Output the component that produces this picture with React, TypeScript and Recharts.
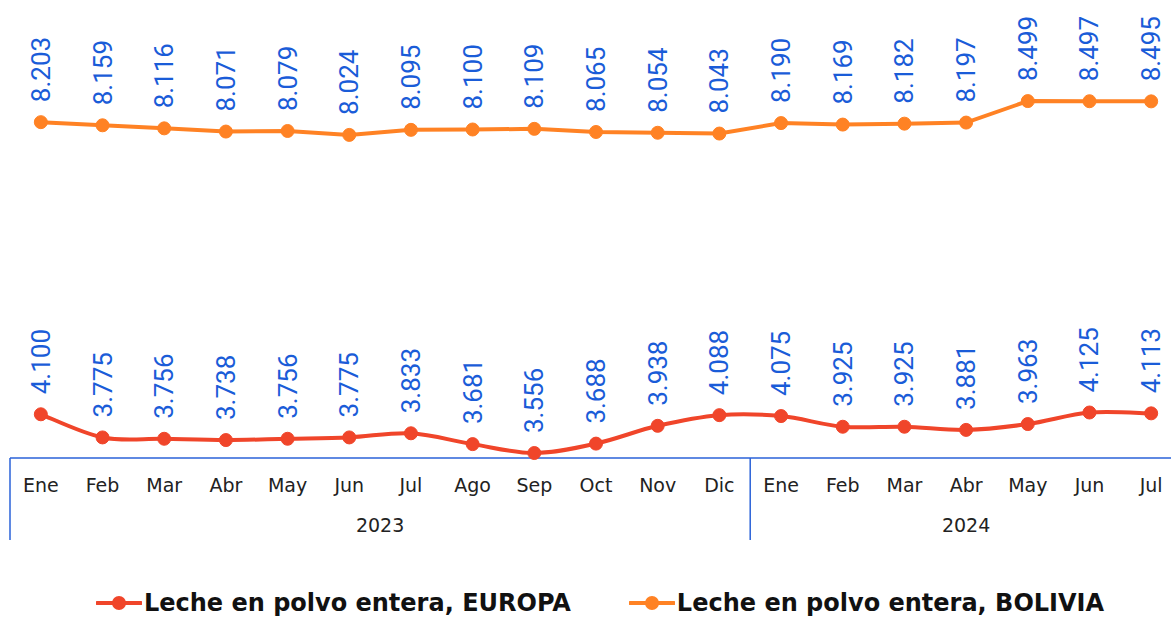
import React from "react";
import { LineChart, Line, XAxis, YAxis, Legend, LabelList } from "recharts";

const months = ["Ene","Feb","Mar","Abr","May","Jun","Jul","Ago","Sep","Oct","Nov","Dic","Ene","Feb","Mar","Abr","May","Jun","Jul"];
const years = ["2023","2023","2023","2023","2023","2023","2023","2023","2023","2023","2023","2023","2024","2024","2024","2024","2024","2024","2024"];
const europa = [4100,3775,3756,3738,3756,3775,3833,3681,3556,3688,3938,4088,4075,3925,3925,3881,3963,4125,4113];
const bolivia = [8203,8159,8116,8071,8079,8024,8095,8100,8109,8065,8054,8043,8190,8169,8182,8197,8499,8497,8495];

const EUROPA_NAME = "Leche en polvo entera, EUROPA";
const BOLIVIA_NAME = "Leche en polvo entera, BOLIVIA";

const data = months.map((m, i) => ({
  key: `${m}-${years[i]}`,
  month: m,
  year: years[i],
  europa: europa[i],
  bolivia: bolivia[i],
}));

const CHART_W = 1190;
const CHART_H = 619;
const MARGIN = { top: 17, right: 8, left: 10, bottom: 0 };
const PLOT_W = CHART_W - MARGIN.left - MARGIN.right;
const BAND = PLOT_W / data.length;

const C_EUROPA = "#f0452a";
const C_BOLIVIA = "#ff8224";
const C_LABEL = "#1a5cd8";
const C_AXIS = "#2a62d8";
const FONT = "'DejaVu Sans', sans-serif";

function fmt(v: number) {
  const s = String(Math.round(v));
  return s.length > 3 ? s.slice(0, s.length - 3) + "." + s.slice(-3) : s;
}

// Excel-like smoothing (Catmull-Rom / Bezier with 1/6 tangents)
function smoothCurve(context: any) {
  let pts: number[][] = [];
  return {
    areaStart() {},
    areaEnd() {},
    lineStart() { pts = []; },
    point(x: number, y: number) { pts.push([+x, +y]); },
    lineEnd() {
      if (!pts.length) return;
      context.moveTo(pts[0][0], pts[0][1]);
      for (let i = 0; i < pts.length - 1; i++) {
        const p0 = pts[i - 1] || pts[i];
        const p1 = pts[i];
        const p2 = pts[i + 1];
        const p3 = pts[i + 2] || p2;
        const c1x = p1[0] + (p2[0] - p0[0]) / 6;
        const c1y = p1[1] + (p2[1] - p0[1]) / 6;
        const c2x = p2[0] - (p3[0] - p1[0]) / 6;
        const c2y = p2[1] - (p3[1] - p1[1]) / 6;
        context.bezierCurveTo(c1x, c1y, c2x, c2y, p2[0], p2[1]);
      }
    },
  };
}

const ValueLabel = (props: any) => {
  const { x, y, value } = props;
  if (x == null || y == null) return null;
  const ly = y - 20;
  return (
    <text
      x={x}
      y={ly}
      transform={`rotate(-90, ${x}, ${ly})`}
      textAnchor="start"
      dominantBaseline="central"
      fill={C_LABEL}
      fontSize={26}
      fontFamily="Roboto, sans-serif"
    >
      {fmt(value)}
    </text>
  );
};

const MonthTick = (props: any) => {
  const { x, y, index } = props;
  const d = data[index];
  if (!d) return null;
  const els: any[] = [];
  els.push(
    <text key="m" x={x} y={y + 27} textAnchor="middle" dominantBaseline="central" fill="#222" fontSize={19} fontFamily={FONT}>
      {d.month}
    </text>
  );
  const isFirst = index === 0 || data[index - 1].year !== d.year;
  if (isFirst) {
    const n = data.filter((e) => e.year === d.year).length;
    els.push(<line key="l" x1={x - BAND / 2} x2={x - BAND / 2} y1={y} y2={y + 82} stroke={C_AXIS} strokeWidth={1.5} />);
    els.push(
      <text key="y" x={x + (BAND * (n - 1)) / 2} y={y + 67} textAnchor="middle" dominantBaseline="central" fill="#222" fontSize={19} fontFamily={FONT}>
        {d.year}
      </text>
    );
  }
  if (index === data.length - 1) {
    els.push(<line key="r" x1={x + BAND / 2} x2={x + BAND / 2} y1={y} y2={y + 82} stroke={C_AXIS} strokeWidth={1.5} />);
  }
  return <g>{els}</g>;
};

const LegendContent = () => {
  const items = [
    { name: EUROPA_NAME, color: C_EUROPA },
    { name: BOLIVIA_NAME, color: C_BOLIVIA },
  ];
  return (
    <div style={{ display: "flex", justifyContent: "center", alignItems: "flex-end", height: 40, gap: 58, paddingLeft: 8, boxSizing: "border-box", paddingBottom: 3 }}>
      {items.map((it) => (
        <div key={it.name} style={{ display: "flex", alignItems: "center" }}>
          <svg width={46} height={20} style={{ marginRight: 2 }}>
            <line x1={1} x2={45} y1={10} y2={10} stroke={it.color} strokeWidth={4} strokeLinecap="round" />
            <circle cx={23} cy={10} r={7} fill={it.color} />
          </svg>
          <span style={{ fontFamily: FONT, fontWeight: 700, fontSize: 24, lineHeight: "26px", color: "#111" }}>{it.name}</span>
        </div>
      ))}
    </div>
  );
};

export default function App() {
  return (
    <div style={{ position: "fixed", left: 0, top: 0, width: 1171, height: 619, overflow: "hidden", background: "#fff" }}>
      <LineChart width={CHART_W} height={CHART_H} data={data} margin={MARGIN}>
        <XAxis
          dataKey="key"
          interval={0}
          height={121}
          tickSize={0}
          tickMargin={0}
          tickLine={false}
          padding={{ left: BAND / 2, right: BAND / 2 }}
          axisLine={{ stroke: C_AXIS, strokeWidth: 1.5 }}
          tick={<MonthTick />}
        />
        <YAxis hide domain={[3486, 9680]} />
        <Legend verticalAlign="bottom" height={40} content={<LegendContent />} />
        <Line
          name={EUROPA_NAME}
          dataKey="europa"
          type={smoothCurve as any}
          stroke={C_EUROPA}
          strokeWidth={4}
          dot={{ r: 6.5, fill: C_EUROPA, stroke: C_EUROPA, strokeWidth: 1 }}
          isAnimationActive={false}
        >
          <LabelList dataKey="europa" content={<ValueLabel />} />
        </Line>
        <Line
          name={BOLIVIA_NAME}
          dataKey="bolivia"
          type="linear"
          stroke={C_BOLIVIA}
          strokeWidth={4}
          dot={{ r: 6.5, fill: C_BOLIVIA, stroke: C_BOLIVIA, strokeWidth: 1 }}
          isAnimationActive={false}
        >
          <LabelList dataKey="bolivia" content={<ValueLabel />} />
        </Line>
      </LineChart>
    </div>
  );
}
